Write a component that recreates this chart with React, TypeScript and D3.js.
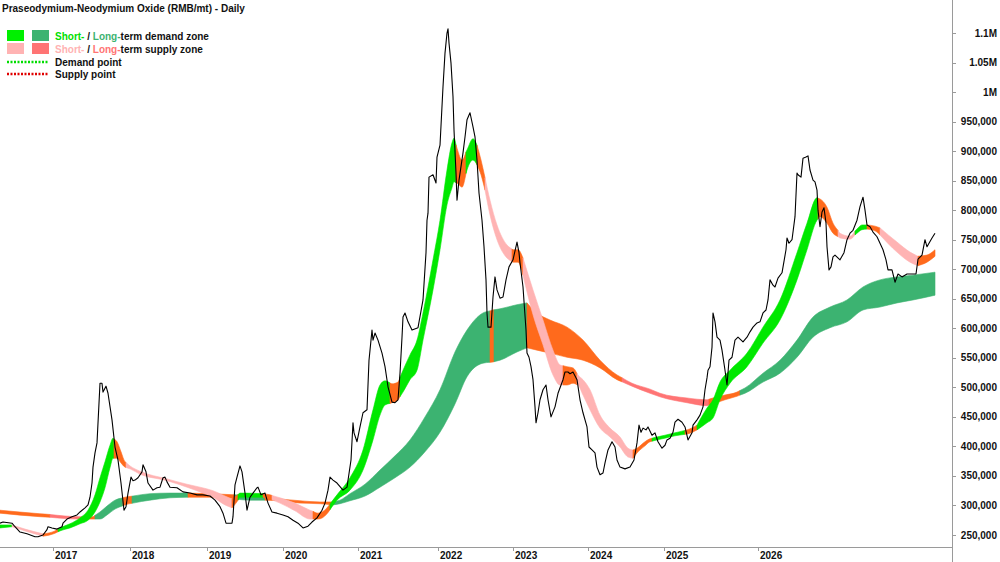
import * as d3 from 'd3';

// values in thousand RMB/mt, time in half-weeks-ish index (t)
const price: [number, number][] = [
  [0,270],[1.5,272],[6,270],[7.5,264],[10,255],[13.5,252],[17.5,247],[19,247],[21.5,250],[23.5,259],[24,264],[26,262],[28.5,260],[31,264],[31.5,270],[33.5,277],[36,281],[38.5,284],[40,289],[42.5,296],[44,301],[45,314],[46,338],[46.5,365],[47.5,389],[48.5,406],[50,507],[51,507],[51.5,492],[53,502],[54,490],[56,445],[57.5,399],[59,377],[60.5,338],[62,292],[63,298],[64,321],[65.5,348],[66.5,342],[67.5,343],[69,347],[71,357],[71.5,369],[73,357],[74,338],[76.5,326],[78.5,330],[80,331],[81.5,347],[82.5,348],[83.5,340],[85,331],[88.5,330],[91.5,323],[95,321],[98.5,318],[101.5,318],[105,316],[107.5,309],[110,298],[111.5,287],[113,270],[116,270],[116.5,281],[117.5,335],[118.5,348],[120,367],[121,357],[122.5,321],[123.5,292],[125,314],[126.5,321],[128.5,330],[129,331],[130.5,318],[132.5,321],[134,304],[136,289],[138.5,287],[141.5,284],[144,281],[146.5,275],[149,270],[151.5,262],[154,265],[156,272],[158.5,279],[161,292],[162.5,304],[164,326],[165,348],[166.5,343],[168.5,338],[171.5,326],[173.5,331],[175.5,377],[176.5,440],[177,423],[178.5,408],[180,433],[181.5,457],[183.5,462],[184.5,546],[186,597],[186.5,580],[187.5,592],[189,580],[191,558],[192.5,535],[194,501],[196,475],[197.5,474],[199,479],[200,524],[201,585],[201.5,619],[202.5,626],[204,611],[206,597],[209,601],[211.5,648],[213,728],[213.5,783],[214,795],[214.5,856],[216.5,860],[218,846],[218.5,890],[220,910],[221.5,1009],[222.5,1066],[223.5,1100],[224,1107],[224.5,1083],[225.5,1049],[226.5,992],[227,936],[228,863],[228.5,817],[229.5,851],[231.5,897],[232.5,924],[233.5,953],[235,965],[236.5,941],[237.5,924],[238.5,885],[239.5,829],[241,783],[242,738],[243,682],[243.5,626],[244,602],[245.5,602],[246.5,653],[247.5,687],[248.5,665],[250,651],[251.5,653],[253,682],[254.5,704],[256.5,716],[258.5,746],[259.5,728],[260,711],[261.5,670],[263,597],[263.5,558],[264.5,551],[265.5,535],[266.5,513],[267.5,467],[268,440],[269,457],[270,479],[271.5,496],[273,504],[274,479],[275.5,450],[277.5,467],[279,490],[281.5,513],[282.5,526],[284,526],[285,523],[286.5,526],[288.5,513],[290,479],[291.5,457],[293.5,433],[294.5,399],[296,394],[297.5,389],[298.5,365],[300,352],[301.5,355],[302.5,372],[304,394],[306,408],[307.5,399],[308.5,377],[310,365],[312.5,362],[315,365],[317,377],[318.5,406],[319.5,436],[320.5,424],[321.5,431],[323,428],[324,433],[326,419],[327.5,423],[329,408],[331,397],[332.5,402],[333.5,411],[335,414],[336.5,424],[337.5,441],[339,446],[341,441],[342.5,433],[344,411],[346,423],[346.5,436],[348.5,445],[350,453],[351.5,467],[352.5,496],[353.5,516],[354,529],[355,535],[356,568],[356.5,626],[357.5,611],[358.5,585],[360,580],[361,563],[362.5,529],[363.5,504],[364.5,546],[366,551],[367.5,580],[369,585],[371.5,577],[373.5,585],[375,594],[376.5,602],[378.5,609],[380,611],[381.5,626],[383,631],[384,648],[385,682],[386.5,673],[387.5,670],[389,685],[391,694],[393,733],[393.5,753],[394.5,744],[396,750],[397.5,789],[398.5,863],[399,860],[400.5,856],[401.5,888],[403,890],[404,892],[405,868],[406.5,851],[407.5,848],[408.5,834],[409,800],[410,772],[411,797],[412,804],[413,778],[413.5,738],[414.5,699],[415.5,704],[416.5,721],[417.5,724],[420,716],[422,728],[423.5,750],[425,761],[426.5,766],[428.5,783],[430,806],[431.5,822],[432.5,800],[433.5,775],[435,772],[436.5,763],[438.5,755],[440,744],[441.5,733],[443,716],[444,699],[446,699],[447.5,678],[449,692],[451,687],[453.5,692],[456,692],[458,692],[459,717],[461,724],[462.5,750],[463.5,738],[464.5,744],[466,753],[467.5,761],
];

// short-term zone: [t, upper, lower]
const shortBand: [number, number, number][] = [
  [0,267,262],[6,267,264],[12.5,260,257],[21.5,252,248],[27.5,257,253],[30,262,257],[35,269,262],[40,279,269],[44,292,275],[47.5,318,289],[50,347,306],[52.5,374,330],[55,402,364],[56.5,414,380],[58.5,408,380],[60.5,391,372],[62.5,374,365],[65,367,362],[70,358,353],[83.5,345,342],[93.5,336,331],[100,331,323],[106.5,325,314],[112.5,316,301],[116,311,296],[118,316,304],[120,321,314],[131.5,320,314],[135,318,311],[140,313,304],[147.5,304,291],[155,292,277],[159,287,277],[163.5,296,286],[168.5,318,309],[175,347,326],[181.5,394,360],[186.5,462,411],[190,504,453],[192.5,511,470],[196,506,474],[199,509,479],[201.5,529,492],[205,555,513],[208.5,580,529],[211.5,626,580],[216.5,716,665],[220,783,733],[223.5,868,809],[226,914,838],[227,922,848],[228.5,905,846],[231,885,839],[233.5,902,868],[236.5,921,885],[238.5,910,877],[240.5,885,860],[242.5,855,834],[245,817,792],[248.5,775,750],[253.5,741,719],[256.5,733,712],[259,733,712],[261.5,719,690],[266.5,665,623],[271.5,614,572],[276.5,563,521],[280,538,504],[283.5,535,504],[286.5,533,507],[289,521,504],[291.5,513,487],[295,496,462],[300,453,431],[305,431,416],[310,416,399],[314,397,382],[316.5,394,380],[318.5,397,389],[322.5,408,401],[325,413,408],[328.5,416,411],[332.5,419,414],[337.5,423,418],[343.5,428,421],[348.5,436,428],[353.5,465,440],[356.5,479,448],[360,509,479],[365,529,507],[373.5,558,535],[381.5,602,575],[390,648,614],[398.5,728,682],[403.5,778,733],[408.5,821,783],[410,819,789],[413.5,805,778],[416.5,778,761],[420,761,753],[425,756,751],[428.5,768,761],[431,775,767],[433.5,775,768],[437.5,773,765],[440,770,758],[448.5,746,729],[455,729,712],[459,722,706],[463.5,724,712],[467.5,733,722],
];

// g = short demand, p = short supply, o = transition
const shortZones: [number, number, string][] = [
  [0,6,'g'],[6,21.5,'p'],[21.5,29,'o'],[29,57,'g'],[57,63,'o'],[63,116,'p'],[116,119,'o'],[119,131.5,'g'],[131.5,136,'o'],[136,156.5,'p'],[156.5,165,'o'],[165,195,'g'],[195,200,'o'],[200,228,'g'],[228,233,'o'],[233,238.5,'g'],[238.5,242.5,'o'],[242.5,256,'p'],[256,261.5,'o'],[261.5,281.5,'p'],[281.5,288.5,'o'],[288.5,316.5,'p'],[316.5,326,'o'],[326,342.5,'g'],[342.5,348.5,'o'],[348.5,409,'g'],[409,419,'o'],[419,427.5,'p'],[427.5,433.5,'g'],[433.5,440,'o'],[440,459,'p'],[459,467.5,'o'],
];

// long-term zone: [t, upper, lower]
const longBand: [number, number, number][] = [
  [0,292,287],[20,286,281],[40,281,277],[46.5,281,277],[50,289,277],[53.5,299,284],[57.5,309,294],[62.5,314,301],[66.5,316,304],[75,320,309],[85,321,313],[94,321,314],[105,320,314],[117.5,318,311],[125,316,309],[132.5,314,309],[140,311,308],[150,308,304],[160,306,303],[166.5,306,301],[170,309,303],[175,320,308],[182.5,336,316],[190,360,331],[197.5,384,347],[205,411,365],[212.5,450,391],[220,496,424],[227.5,560,472],[233.5,597,518],[241.5,626,541],[246.5,631,543],[250,633,546],[258.5,640,560],[263.5,643,567],[268.5,626,563],[275,614,558],[283.5,602,551],[291.5,580,546],[300,546,533],[308.5,521,513],[316,507,502],[325,497,490],[330,490,484],[343.5,482,474],[353.5,479,469],[356.5,482,472],[362.5,487,479],[368.5,492,485],[372.5,499,490],[381.5,524,509],[390,546,524],[398.5,580,551],[406.5,619,585],[415,636,601],[423.5,648,611],[431.5,670,631],[440,682,636],[448.5,687,643],[456.5,690,648],[467.5,695,656],
];

// d = long demand, s = long supply, o = transition
const longZones: [number, number, string][] = [
  [0,25,'o'],[25,42.5,'s'],[42.5,47.5,'o'],[47.5,61.5,'d'],[61.5,66,'o'],[66,94,'d'],[94,117.5,'o'],[117.5,132.5,'d'],[132.5,166.5,'o'],[166.5,245,'d'],[245,247,'o'],[247,263.5,'d'],[263.5,311,'o'],[311,354.5,'s'],[354.5,370,'o'],[370,467.5,'d'],
];

const yearTicks: [string, number][] = [
  ['2017',26.5],['2018',65],['2019',103.5],['2020',141.5],['2021',179],['2022',219],['2023',256.5],['2024',294],['2025',332],['2026',379],
];

const priceTicks = d3.range(250, 1101, 50);

const COLORS: Record<string, string> = {
  g: '#00e800',
  p: '#ffb3b3',
  o: '#ff6a1c',
  d: '#3cb371',
  s: '#ff7474',
};

const FONT = '"Liberation Sans", Arial, sans-serif';

const x = d3.scaleLinear().domain([0, 476]).range([0, 952]);
const y = d3.scaleLinear().domain([229.7, 1155.9]).range([547, 0]);

function interp(pts: [number, number, number][], t: number): [number, number, number] {
  for (let i = 0; i < pts.length - 1; i++) {
    const a = pts[i], b = pts[i + 1];
    if (t >= a[0] && t <= b[0]) {
      const k = b[0] === a[0] ? 0 : (t - a[0]) / (b[0] - a[0]);
      return [t, a[1] + (b[1] - a[1]) * k, a[2] + (b[2] - a[2]) * k];
    }
  }
  const last = pts[pts.length - 1];
  return [t, last[1], last[2]];
}

function slice(pts: [number, number, number][], t0: number, t1: number) {
  const out = [interp(pts, t0)];
  pts.forEach(p => { if (p[0] > t0 && p[0] < t1) out.push(p); });
  out.push(interp(pts, t1));
  return out;
}

const area = d3.area<[number, number, number]>()
  .x(d => x(d[0]))
  .y0(d => y(d[2]))
  .y1(d => y(d[1]))
  .curve(d3.curveMonotoneX);

const line = d3.line<[number, number]>().x(d => x(d[0])).y(d => y(d[1]));

const fmtTick = (v: number) => v >= 1000 ? `${v / 1000}M` : d3.format(',')(v * 1000);

export default function App() {
  return (
    <svg width={1000} height={562} style={{ position: 'absolute', left: 0, top: 0, background: '#fff' }}
      fontFamily={FONT}>
      {/* long-term zone */}
      {longZones.map(([t0, t1, k], i) => (
        <path key={'l' + i} d={area(slice(longBand, t0, t1)) || ''} fill={COLORS[k]} stroke={COLORS[k]} strokeWidth={0.6} />
      ))}
      {/* short-term zone */}
      {shortZones.map(([t0, t1, k], i) => (
        <path key={'s' + i} d={area(slice(shortBand, t0, t1)) || ''} fill={COLORS[k]} stroke={COLORS[k]} strokeWidth={0.6} />
      ))}
      <path d={line(price) || ''} fill="none" stroke="#000" strokeWidth={1.1} strokeLinejoin="round" />

      {/* axes */}
      <line x1={0} x2={952} y1={547.5} y2={547.5} stroke="#9a9a9a" />
      <line x1={952.5} x2={952.5} y1={0} y2={562} stroke="#9a9a9a" />
      {yearTicks.map(([lab, t]) => (
        <g key={lab}>
          <line x1={Math.round(x(t)) + 0.5} x2={Math.round(x(t)) + 0.5} y1={547} y2={551} stroke="#9a9a9a" />
          <text x={x(t) + 2} y={559} fontSize={10} fontWeight="bold" fill="#111">{lab}</text>
        </g>
      ))}
      {priceTicks.map(v => (
        <g key={v}>
          <line x1={952} x2={956} y1={Math.round(y(v)) + 0.5} y2={Math.round(y(v)) + 0.5} stroke="#9a9a9a" />
          <text x={997} y={y(v) + 3.5} textAnchor="end" fontSize={10} fontWeight="bold" fill="#111">{fmtTick(v)}</text>
        </g>
      ))}

      {/* title + legend */}
      <text x={2} y={12} fontSize={10} fontWeight="bold" fill="#111">Praseodymium-Neodymium Oxide (RMB/mt) - Daily</text>
      <rect x={7} y={30} width={17} height={11} fill="#00f000" />
      <rect x={32} y={30} width={17} height={11} fill={COLORS.d} />
      <text x={55} y={39.5} fontSize={10} fontWeight="bold" fill="#111">
        <tspan fill="#00e000">Short-</tspan> / <tspan fill={COLORS.d}>Long-</tspan>term demand zone
      </text>
      <rect x={7} y={43} width={17} height={11} fill={COLORS.p} />
      <rect x={32} y={43} width={17} height={11} fill={COLORS.s} />
      <text x={55} y={52.5} fontSize={10} fontWeight="bold" fill="#111">
        <tspan fill={COLORS.p}>Short-</tspan> / <tspan fill={COLORS.s}>Long-</tspan>term supply zone
      </text>
      <line x1={7} x2={48} y1={62} y2={62} stroke="#00dd00" strokeWidth={2.5} strokeDasharray="2 1.5" />
      <text x={55} y={65.5} fontSize={10} fontWeight="bold" fill="#111">Demand point</text>
      <line x1={7} x2={48} y1={74} y2={74} stroke="#e00000" strokeWidth={2.5} strokeDasharray="2 1.5" />
      <text x={55} y={77.5} fontSize={10} fontWeight="bold" fill="#111">Supply point</text>
    </svg>
  );
}
